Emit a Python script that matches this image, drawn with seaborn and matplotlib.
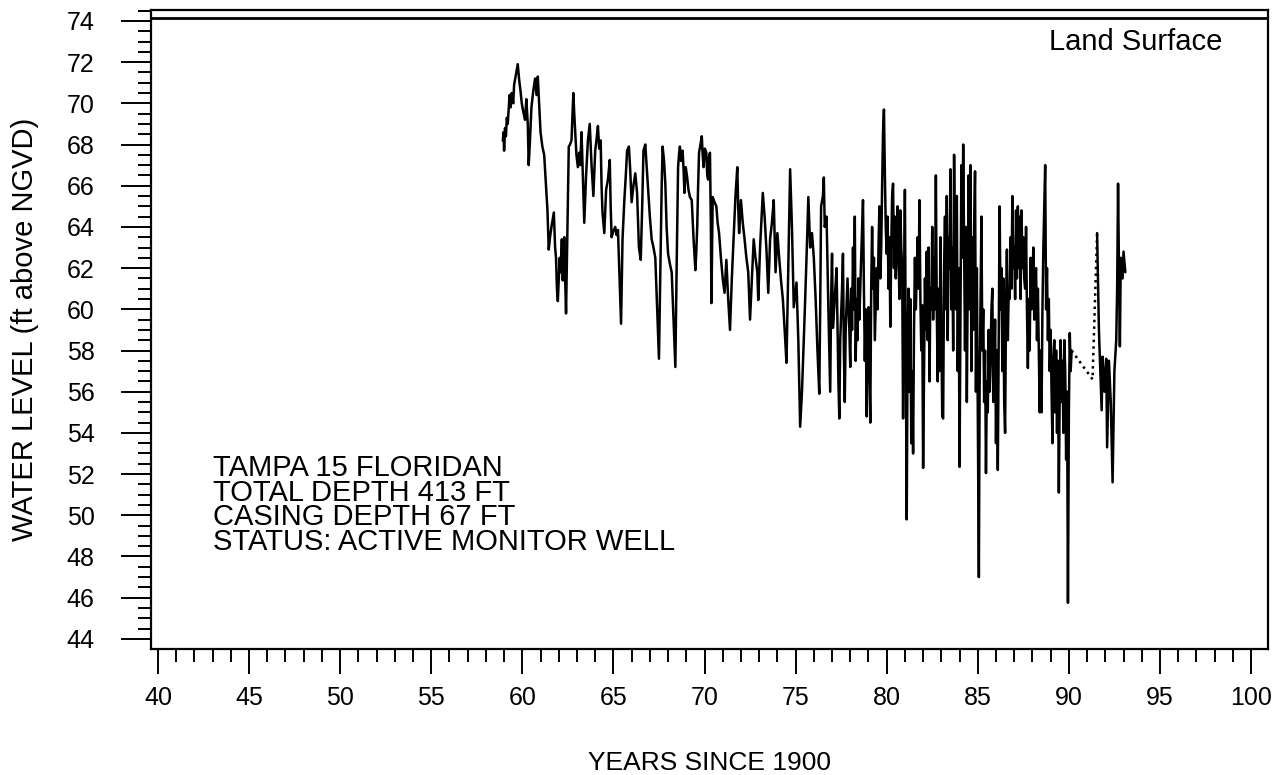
import pandas as pd
import matplotlib
matplotlib.use("Agg")
import matplotlib.pyplot as plt
from matplotlib.ticker import MultipleLocator
import seaborn as sns

# --- hydrograph values (years since 1900, ft above NGVD) ---
years_1959 = [58.93, 58.97, 59.0, 59.05, 59.1, 59.15, 59.2, 59.3, 59.35, 59.42,
              59.5, 59.55, 59.65, 59.75, 59.82, 59.9, 59.97, 60.05, 60.15, 60.22,
              60.3, 60.35, 60.42, 60.5, 60.6, 60.7, 60.78, 60.85, 60.92, 61.0,
              61.1, 61.2, 61.3, 61.38, 61.45, 61.52]
levels_1959 = [68.2, 68.6, 67.7, 68.8, 68.4, 69.3, 69.0, 70.4, 69.8, 70.5,
               70.0, 70.9, 71.4, 71.9, 71.2, 70.6, 70.0, 69.6, 69.2, 70.2,
               69.0, 67.0, 68.2, 69.8, 70.6, 71.2, 70.4, 71.3, 70.0, 68.6,
               67.9, 67.5, 66.0, 64.8, 62.9, 63.5]

years_1962 = [61.6, 61.73, 61.8, 61.85, 61.9, 61.95, 62.05, 62.1, 62.17, 62.22,
              62.3, 62.35, 62.4, 62.48, 62.55, 62.62, 62.7, 62.8, 62.85, 62.9,
              62.97, 63.05, 63.12, 63.18, 63.25, 63.32, 63.4, 63.5, 63.6, 63.7,
              63.8, 63.9, 64.0, 64.08, 64.15, 64.22, 64.3, 64.35, 64.4, 64.5,
              64.6, 64.7, 64.8, 64.85, 64.9, 65.0, 65.1, 65.18, 65.25, 65.35,
              65.42, 65.5, 65.6, 65.68, 65.75, 65.85, 65.92, 66.0, 66.1, 66.2,
              66.3, 66.4, 66.5, 66.58, 66.65, 66.75, 66.82, 66.9, 67.0, 67.1,
              67.2, 67.3, 67.4, 67.5, 67.55, 67.6, 67.65, 67.7, 67.78, 67.85,
              67.92, 68.0, 68.1, 68.2, 68.3, 68.4, 68.47, 68.55, 68.6, 68.65,
              68.72, 68.8, 68.85, 68.9, 68.97, 69.05, 69.12, 69.2, 69.3, 69.4,
              69.5, 69.55, 69.6, 69.65, 69.7, 69.78, 69.85, 69.9, 69.95, 70.02,
              70.1, 70.15, 70.2, 70.25, 70.3, 70.35, 70.38]
levels_1962 = [64.0, 64.7, 63.0, 62.5, 61.0, 60.4, 62.5, 61.8, 63.4, 61.4,
               63.5, 61.5, 59.8, 64.0, 67.9, 68.0, 68.2, 70.5, 69.5, 68.7,
               67.5, 66.9, 67.6, 67.0, 68.6, 66.5, 64.2, 66.5, 68.2, 69.0,
               67.0, 65.5, 67.7, 68.3, 68.9, 67.8, 68.2, 66.0, 64.7, 63.7,
               65.8, 66.3, 67.25, 65.0, 63.5, 63.8, 64.0, 63.6, 63.85, 61.1,
               59.3, 63.4, 65.3, 66.5, 67.7, 67.9, 66.8, 65.2, 66.0, 66.6,
               65.65, 63.0, 62.4, 65.0, 67.7, 68.0, 67.0, 65.8, 64.5, 63.4,
               63.0, 62.5, 60.0, 57.6, 60.5, 63.4, 66.0, 67.9, 67.2, 66.1,
               64.0, 62.7, 62.2, 61.8, 59.5, 57.2, 62.0, 66.9, 67.5, 67.9,
               67.2, 67.7, 66.8, 65.65, 66.9, 66.4, 65.8, 65.45, 65.3, 63.4,
               61.9, 62.8, 64.0, 66.0, 67.6, 68.0, 68.4, 67.5, 66.9, 67.8,
               67.6, 66.5, 66.3, 67.4, 67.6, 64.0, 60.3]

years_1970 = [70.45, 70.55, 70.65, 70.72, 70.8, 70.9, 71.0, 71.1, 71.2, 71.3,
              71.4, 71.5, 71.6, 71.7, 71.8, 71.85, 71.9, 72.0, 72.1, 72.2,
              72.3, 72.4, 72.5, 72.6, 72.7, 72.8, 72.9, 72.95, 73.05, 73.2,
              73.3, 73.4, 73.5, 73.6, 73.7, 73.8, 73.9, 74.0, 74.1, 74.2,
              74.3, 74.4, 74.5, 74.6, 74.7, 74.8, 74.9, 75.05, 75.15, 75.25,
              75.35, 75.5, 75.6, 75.7, 75.8, 75.9, 76.0, 76.1, 76.2, 76.3,
              76.35, 76.4, 76.5, 76.55, 76.6, 76.7, 76.8, 76.9, 76.95, 77.0,
              77.05, 77.15, 77.25, 77.35, 77.4, 77.45, 77.55, 77.6, 77.65, 77.7,
              77.75, 77.85, 77.95, 78.0, 78.05, 78.1, 78.15, 78.2, 78.25, 78.3,
              78.35, 78.4, 78.45, 78.5, 78.6, 78.7, 78.75, 78.8, 78.85, 78.9,
              78.95, 79.0, 79.05, 79.1, 79.15, 79.2, 79.25, 79.3, 79.35, 79.45,
              79.5, 79.55, 79.6, 79.65, 79.7, 79.75, 79.8, 79.85, 79.9, 79.95,
              80.0, 80.05, 80.1, 80.15, 80.2, 80.25, 80.3, 80.35, 80.4, 80.45,
              80.5, 80.55]
levels_1970 = [65.45, 65.2, 65.0, 64.2, 63.7, 62.5, 61.5, 60.8, 62.4, 60.5,
               59.0, 61.5, 63.5, 65.5, 66.9, 65.0, 63.7, 65.3, 64.2, 63.4,
               62.5, 61.8, 59.5, 61.5, 63.4, 62.5, 61.8, 60.45, 63.0, 65.65,
               64.5, 62.9, 60.8, 63.4, 64.2, 65.3, 61.8, 63.7, 62.5, 61.4,
               60.5, 59.0, 57.4, 62.0, 66.8, 64.0, 60.1, 61.3, 58.5, 54.3,
               56.0, 59.8, 62.5, 65.45, 63.0, 63.7, 62.5, 60.5, 58.0, 55.9,
               60.0, 65.0, 65.5, 66.4, 64.0, 64.5, 60.0, 56.0, 60.5, 62.7,
               59.1, 60.5, 62.0, 56.5, 54.7, 58.5, 61.0, 62.7, 58.0, 55.5,
               59.0, 61.5, 59.0, 57.2, 61.0, 59.0, 63.0, 60.0, 64.5, 57.5,
               60.5, 58.5, 61.5, 59.5, 62.5, 65.3, 61.0, 57.5, 60.0, 54.8,
               59.0, 60.1, 57.0, 54.5, 61.0, 64.0, 61.0, 62.5, 58.5, 62.0,
               60.0, 63.0, 65.0, 61.5, 63.0, 66.0, 68.6, 69.7, 66.6, 64.0,
               62.7, 64.5, 61.0, 63.5, 59.15, 63.0, 65.5, 66.1, 62.0, 64.5,
               61.5, 63.5]

years_1980 = [80.6, 80.65, 80.7, 80.75, 80.8, 80.85, 80.9, 80.95, 81.0, 81.05,
              81.1, 81.15, 81.2, 81.25, 81.3, 81.35, 81.4, 81.45, 81.5, 81.55,
              81.6, 81.65, 81.7, 81.75, 81.8, 81.85, 81.9, 81.95, 82.0, 82.05,
              82.1, 82.15, 82.2, 82.25, 82.3, 82.35, 82.4, 82.45, 82.5, 82.55,
              82.6, 82.65, 82.7, 82.75, 82.8, 82.85, 82.9, 82.95, 83.0, 83.05,
              83.1, 83.15, 83.2, 83.25, 83.3, 83.35, 83.4, 83.45, 83.5, 83.55,
              83.6, 83.65, 83.7, 83.75, 83.8, 83.85, 83.9, 83.95, 84.0, 84.05,
              84.1, 84.15, 84.2, 84.25, 84.3, 84.35, 84.4, 84.45, 84.5, 84.55,
              84.6, 84.65, 84.7, 84.75, 84.8, 84.85, 84.9, 84.95, 85.0, 85.06,
              85.1, 85.15, 85.2, 85.25, 85.3, 85.35, 85.4, 85.45, 85.5, 85.55,
              85.6, 85.65, 85.7, 85.75, 85.8, 85.85, 85.9, 85.95, 86.0, 86.05,
              86.1, 86.15, 86.2, 86.25, 86.3, 86.35, 86.4, 86.45, 86.5, 86.55,
              86.6, 86.65, 86.7, 86.75, 86.8, 86.85, 86.9, 86.95, 87.0, 87.05,
              87.1, 87.15, 87.2, 87.25, 87.3, 87.35, 87.4, 87.45, 87.5, 87.55,
              87.6, 87.65, 87.7, 87.75, 87.8, 87.85, 87.9, 87.95, 88.0, 88.05,
              88.1, 88.15, 88.2, 88.25, 88.3, 88.35, 88.4, 88.45, 88.5, 88.55,
              88.6, 88.65, 88.7, 88.75, 88.8, 88.85, 88.9, 88.95, 89.0, 89.05,
              89.1, 89.15, 89.2, 89.25, 89.3, 89.35, 89.4, 89.45, 89.5, 89.55,
              89.6, 89.65, 89.7, 89.75, 89.8, 89.85, 89.9, 89.95, 90.0, 90.05,
              90.1, 90.15]
levels_1980 = [65.0, 62.5, 60.5, 64.8, 63.0, 62.0, 54.7, 61.0, 65.8, 58.0,
               49.8, 58.5, 61.0, 56.0, 60.5, 53.5, 57.0, 53.0, 59.0, 62.5,
               60.0, 61.8, 63.5, 61.0, 65.3, 60.5, 58.0, 60.2, 52.3, 57.0,
               61.5, 59.0, 62.8, 58.5, 63.0, 56.5, 61.0, 60.0, 64.0, 59.5,
               62.5, 60.0, 66.5, 60.0, 56.5, 61.0, 57.0, 63.5, 59.0, 54.8,
               54.7, 62.0, 64.5, 60.0, 65.5, 58.5, 63.5, 62.0, 66.8, 60.0,
               63.0, 58.0, 67.5, 62.5, 60.0, 65.5, 57.0, 62.0, 52.35, 60.0,
               67.0, 62.5, 68.0, 63.0, 58.0, 64.0, 55.5, 61.5, 66.5, 60.0,
               67.0, 57.0, 63.5, 59.0, 64.0, 66.7, 56.0, 62.0, 55.5, 47.0,
               56.0, 60.5, 64.5, 58.0, 60.0, 55.5, 58.0, 52.05, 56.5, 55.0,
               59.0, 56.0, 57.5, 60.0, 61.0, 55.5, 57.0, 59.5, 53.5, 58.0,
               52.2, 58.5, 65.0, 60.0, 62.0, 57.0, 61.5, 55.5, 54.0, 60.0,
               62.9, 58.5, 61.0, 60.5, 63.5, 61.0, 65.5, 62.0, 63.0, 60.5,
               64.8, 61.5, 65.0, 62.0, 64.5, 60.5, 64.8, 62.0, 63.5, 61.5,
               61.0, 64.0, 60.0, 57.15, 60.5, 58.0, 62.5, 60.0, 61.0, 63.0,
               59.5, 61.5, 62.0, 58.5, 61.0, 58.0, 55.0, 58.0, 55.0, 60.0,
               63.0, 65.0, 67.0, 60.0, 62.0, 58.5, 60.5, 57.0, 59.0, 56.0,
               53.5, 57.5, 58.5, 55.0, 58.0, 54.0, 57.5, 51.1, 56.0, 58.5,
               55.5, 57.5, 54.0, 58.5, 57.0, 52.7, 56.0, 45.75, 55.0, 58.85,
               57.0, 58.0]

# dotted stretch where records are missing
years_gap = [90.15, 91.3, 91.55]
levels_gap = [58.0, 56.6, 63.7]

years_1991 = [91.55, 91.65, 91.8, 91.85, 91.95, 92.05, 92.1, 92.2, 92.3, 92.4,
              92.5, 92.6, 92.65, 92.7, 92.75, 92.8, 92.85, 92.95, 93.0, 93.1]
levels_1991 = [63.7, 59.0, 55.1, 57.7, 56.0, 57.6, 53.3, 57.5, 55.5, 51.6,
               57.0, 58.5, 61.0, 66.1, 62.0, 58.2, 62.5, 61.5, 62.8, 61.8]

land_surface = 74.16
well_info = ["TAMPA 15 FLORIDAN", "TOTAL DEPTH 413 FT",
             "CASING DEPTH 67 FT", "STATUS: ACTIVE MONITOR WELL"]

df_early = pd.DataFrame({"year": years_1959 + years_1962 + years_1970 + years_1980,
                         "level": levels_1959 + levels_1962 + levels_1970 + levels_1980})
df_gap = pd.DataFrame({"year": years_gap, "level": levels_gap})
df_late = pd.DataFrame({"year": years_1991, "level": levels_1991})

sns.set_style("ticks")
plt.rcParams["font.family"] = ["Liberation Sans", "DejaVu Sans"]
plt.rcParams["text.color"] = "black"
plt.rcParams["axes.labelcolor"] = "black"
plt.rcParams["xtick.color"] = "black"
plt.rcParams["ytick.color"] = "black"

fig = plt.figure(figsize=(12.75, 7.75), dpi=100)
ax = fig.add_axes([0.1184, 0.1626, 0.8761, 0.8245])

sns.lineplot(data=df_early, x="year", y="level", color="black", linewidth=1.8,
             sort=False, estimator=None, ax=ax)
sns.lineplot(data=df_gap, x="year", y="level", color="black", linewidth=1.8,
             linestyle=":", sort=False, estimator=None, ax=ax)
sns.lineplot(data=df_late, x="year", y="level", color="black", linewidth=1.8,
             sort=False, estimator=None, ax=ax)

ax.axhline(land_surface, color="black", linewidth=2)
ax.text(98.41, 72.98, "Land Surface", ha="right", va="center", fontsize=21)
ax.text(43.02, 52.98, "\n".join(well_info), ha="left", va="top",
        fontsize=21, linespacing=0.85)

ax.set_xlim(39.616, 100.93)
ax.set_ylim(43.51, 74.53)
ax.xaxis.set_major_locator(MultipleLocator(5))
ax.xaxis.set_minor_locator(MultipleLocator(1))
ax.yaxis.set_major_locator(MultipleLocator(2))
ax.yaxis.set_minor_locator(MultipleLocator(0.5))

ax.tick_params(axis="y", which="major", length=21.6, width=1.4, pad=19, labelsize=18)
ax.tick_params(axis="y", which="minor", length=9.4, width=1.4)
ax.tick_params(axis="x", which="major", length=18, width=1.4, pad=9, labelsize=18)
ax.tick_params(axis="x", which="minor", length=9.4, width=1.4)

for spine in ax.spines.values():
    spine.set_linewidth(1.6)
    spine.set_color("black")

ax.set_xlabel("YEARS SINCE 1900", fontsize=19, labelpad=29)
ax.set_ylabel("WATER LEVEL (ft above NGVD)", fontsize=21)
ax.yaxis.set_label_coords(-0.1, 0.5)

fig.savefig("out.png", dpi=100)
